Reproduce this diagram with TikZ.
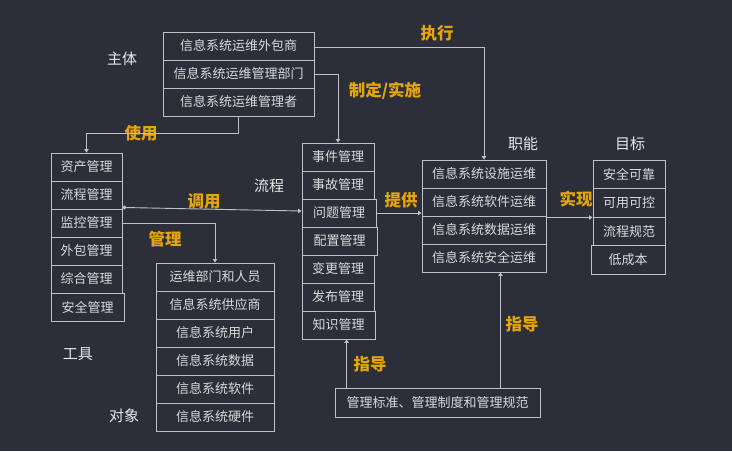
\documentclass[tikz,border=0pt]{standalone}
\usepackage{fontspec}
\setmainfont{Noto Sans CJK SC}
\usetikzlibrary{arrows.meta}
\definecolor{bg}{HTML}{2C2F3A}
\definecolor{linec}{HTML}{BFC1C6}
\definecolor{txt}{HTML}{DADADA}
\definecolor{lbl}{HTML}{E8E8E8}
\definecolor{org}{HTML}{E6A50C}
\tikzset{
  cell/.style={draw=linec, line width=0.9pt, inner sep=0pt, text=txt,
    font=\fontsize{13}{15}\selectfont, minimum height=28pt},
  tbox/.style={cell, minimum width=71pt},
  sbox/.style={cell, minimum width=151pt},
  obox/.style={cell, minimum width=118pt},
  pbox/.style={cell, minimum width=72pt},
  fbox/.style={cell, minimum width=124pt},
  gbox/.style={cell, minimum width=72pt, minimum height=28.5pt},
  cat/.style={text=lbl, font=\fontsize{15}{17}\selectfont, inner sep=0pt},
  act/.style={text=org, font=\fontsize{16.5}{18}\selectfont\bfseries, inner sep=0pt},
  conn/.style={draw=linec, line width=0.9pt},
  arr/.style={conn, -{Triangle[width=4.5pt,length=3.5pt]}},
  darr/.style={conn, {Circle[length=4pt]}-{Triangle[width=4.5pt,length=3.5pt]}}
}
\begin{document}
\begin{tikzpicture}[x=1pt,y=-1pt]
\fill[bg] (0,0) rectangle (732,451);
\useasboundingbox (0,0) rectangle (732,451);

% subjects
\node[sbox] (s1) at (238.5,46) {信息系统运维外包商};
\node[sbox] (s2) at (238.5,74) {信息系统运维管理部门};
\node[sbox] (s3) at (238.5,102) {信息系统运维管理者};

% tools
\node[tbox] (t1) at (86.5,167) {资产管理};
\node[tbox] (t2) at (86.5,195) {流程管理};
\node[tbox] (t3) at (86.5,223) {监控管理};
\node[tbox] (t4) at (86.5,251) {外包管理};
\node[tbox] (t5) at (86.5,279) {综合管理};
\node[tbox, minimum width=73pt] (t6) at (87.5,307) {安全管理};

% objects
\node[obox] (o1) at (215,277) {运维部门和人员};
\node[obox] (o2) at (215,305) {信息系统供应商};
\node[obox] (o3) at (215,333) {信息系统用户};
\node[obox] (o4) at (215,361) {信息系统数据};
\node[obox] (o5) at (215,389) {信息系统软件};
\node[obox] (o6) at (215,417) {信息系统硬件};

% processes
\node[pbox] (p1) at (338,157) {事件管理};
\node[pbox] (p2) at (338,185) {事故管理};
\node[pbox, minimum width=74pt] (p3) at (339,213) {问题管理};
\node[pbox, minimum width=75pt] (p4) at (339.5,241) {配置管理};
\node[pbox] (p5) at (338,269) {变更管理};
\node[pbox] (p6) at (338,297) {发布管理};
\node[pbox, minimum width=73pt] (p7) at (338.5,325) {知识管理};

% functions
\node[fbox] (f1) at (484,174) {信息系统设施运维};
\node[fbox] (f2) at (484,202) {信息系统软件运维};
\node[fbox] (f3) at (484,230) {信息系统数据运维};
\node[fbox] (f4) at (484,258) {信息系统安全运维};

% goals
\node[gbox] (g1) at (629,174.25) {安全可靠};
\node[gbox] (g2) at (629,202.75) {可用可控};
\node[gbox] (g3) at (629,231.25) {流程规范};
\node[gbox, minimum width=74pt] (g4) at (628,259.75) {低成本};

% bottom box
\node[cell, minimum width=205pt, minimum height=29pt] (b) at (437.5,402.5) {管理标准、管理制度和管理规范};

% category labels
\node[cat] (l1) at (122,59) {主体};
\node[cat] (l2) at (78,354) {工具};
\node[cat] (l3) at (124,416) {对象};
\node[cat] (l4) at (269,186) {流程};
\node[cat] (l5) at (523,144) {职能};
\node[cat] (l6) at (630,144) {目标};

% action labels
\node[act] (a1) at (437,33) {执行};
\node[act] (a2) at (385,91) {制定/实施};
\node[act] (a3) at (141,133) {使用};
\node[act] (a4) at (204,201) {调用};
\node[act] (a5) at (165,239) {管理};
\node[act] (a6) at (401,200) {提供};
\node[act] (a7) at (576,199) {实现};
\node[act] (a8) at (370,364) {指导};
\node[act] (a9) at (522,324) {指导};

% connectors
\coordinate (c1) at ([yshift=-1pt]s1.east);
\draw[arr] (c1) -| (f1.north);
\draw[arr] (s2.east) -| (p1.north);
\draw[arr] (s3.south) -- ++(0,17) -| (t1.north);
\coordinate (c2) at ([yshift=2pt]t2.south east);
\draw[darr] (c2) -- ([yshift=2pt]p3.west);
\draw[arr] (t3.east) -| (o1.north);
\draw[arr] (p3.east) -- (p3.east -| f1.west);
\coordinate (c3) at ([yshift=-1pt]f2.south east);
\draw[arr] (c3) -- (c3 -| g1.west);
\coordinate (c4) at ([xshift=12pt]b.north west);
\draw[arr] (c4) -- (c4 |- p7.south);
\coordinate (c5) at ([xshift=-40pt]b.north east);
\draw[arr] (c5) -- (c5 |- f4.south);
\end{tikzpicture}
\end{document}
